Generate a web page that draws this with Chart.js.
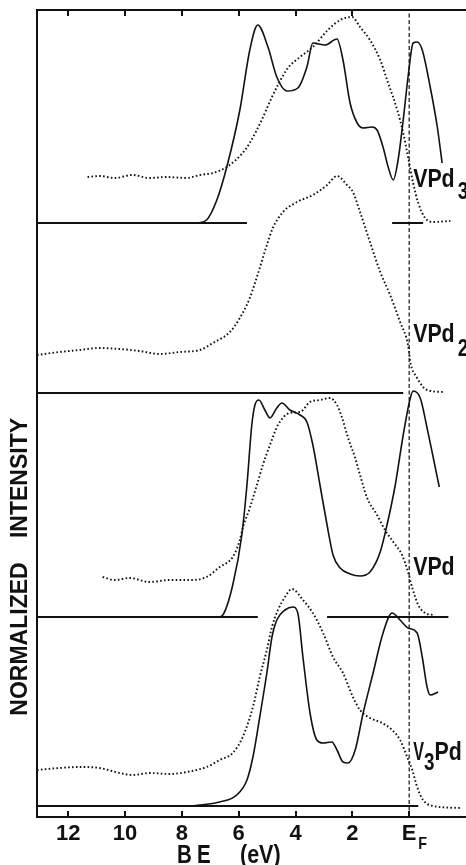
<!DOCTYPE html>
<html>
<head>
<meta charset="utf-8">
<title>Valence band spectra of V-Pd alloys</title>
<script src="https://cdn.jsdelivr.net/npm/chart.js@4.4.1/dist/chart.umd.min.js"></script>
<style>
  html, body { margin: 0; padding: 0; background: #fff; }
</style>
</head>
<body>
<canvas id="spectra" width="466" height="865"></canvas>
<script>
// binding energy ticks (eV below E_F)
const energyTicks = [12, 10, 8, 6, 4, 2, 0];

// VPd3: calculated DOS (solid) and measured spectrum (dots)
const vpd3CalcE = [7.44, 7.13, 6.77, 6.42, 5.96, 5.61, 5.33, 4.97, 4.66, 4.30, 3.92, 3.60, 3.39, 2.96, 2.54, 2.33, 2.08, 1.83, 1.62, 1.31, 1.13, 0.92, 0.74, 0.56, 0.39, 0.21, 0.04, -0.14, -0.28, -0.46, -0.74, -0.99, -1.16];
const vpd3CalcI = [0.0, 0.3, 2.3, 5.6, 11.3, 17.3, 19.8, 17.6, 14.6, 13.2, 13.5, 15.6, 18.0, 17.8, 18.4, 16.3, 12.0, 10.0, 9.5, 9.6, 9.3, 7.6, 5.6, 4.3, 6.3, 10.3, 14.6, 18.0, 18.1, 17.3, 13.6, 9.6, 6.0];
const vpd3ExpE = [11.32, 10.90, 10.37, 9.74, 9.14, 8.54, 7.83, 7.37, 6.91, 6.42, 5.86, 5.61, 5.19, 4.83, 4.62, 4.27, 3.84, 3.39, 2.86, 2.43, 2.01, 1.73, 1.38, 1.02, 0.74, 0.42, 0.21, 0.04, -0.14, -0.32, -0.56, -0.85, -1.45];
const vpd3ExpI = [4.6, 4.7, 4.5, 4.8, 4.5, 4.6, 4.5, 4.8, 5.0, 5.6, 7.0, 8.0, 10.3, 12.6, 13.8, 15.5, 16.6, 17.6, 19.3, 20.3, 20.6, 19.6, 18.3, 16.3, 14.0, 11.3, 9.0, 6.6, 4.0, 2.0, 0.5, 0.1, 0.2];
const vpd3Zero = [[13.1, 5.71], [0.60, -0.49]];

// VPd2: measured spectrum only
const vpd2ExpE = [13.10, 12.31, 11.60, 10.90, 10.19, 9.49, 8.78, 8.08, 7.37, 6.91, 6.31, 5.96, 5.61, 5.26, 5.01, 4.80, 4.44, 3.95, 3.39, 2.89, 2.54, 2.19, 1.98, 1.73, 1.38, 1.02, 0.67, 0.32, 0.04, -0.04, -0.28, -0.63, -1.20];
const vpd2ExpI = [3.8, 4.1, 4.3, 4.5, 4.4, 4.2, 3.9, 4.1, 4.3, 5.0, 6.1, 7.5, 9.5, 12.5, 14.8, 16.5, 18.1, 19.1, 19.8, 20.8, 21.7, 20.8, 20.1, 18.1, 15.1, 12.1, 9.8, 7.1, 4.8, 3.1, 1.5, 0.3, 0.1];
const vpd2Zero = [[13.1, 0.21]];

// VPd
const vpdCalcE = [6.70, 6.56, 6.21, 5.89, 5.71, 5.54, 5.43, 5.29, 5.08, 4.90, 4.66, 4.48, 4.20, 3.84, 3.60, 3.39, 3.14, 2.89, 2.68, 2.43, 2.08, 1.73, 1.38, 1.02, 0.78, 0.49, 0.21, -0.04, -0.14, -0.39, -0.63, -0.85, -1.06];
const vpdCalcI = [0.0, 0.2, 3.2, 8.2, 13.2, 19.2, 21.2, 21.7, 20.7, 19.9, 20.9, 21.4, 20.7, 20.2, 19.5, 17.2, 13.2, 9.2, 6.2, 4.9, 4.3, 4.1, 4.5, 6.5, 9.2, 13.2, 18.2, 21.9, 22.6, 21.9, 18.9, 15.9, 13.0];
const vpdExpE = [10.79, 10.37, 9.84, 9.14, 8.43, 7.72, 7.13, 6.67, 6.21, 5.96, 5.86, 5.61, 5.36, 5.15, 4.90, 4.62, 4.20, 3.84, 3.49, 3.14, 2.79, 2.54, 2.36, 2.15, 1.90, 1.73, 1.48, 1.13, 0.85, 0.56, 0.25, 0.04, -0.11, -0.32, -0.56, -0.85];
const vpdExpI = [4.0, 3.7, 3.9, 3.5, 3.7, 3.7, 4.0, 5.0, 6.0, 7.7, 8.9, 10.9, 13.2, 15.2, 17.2, 19.2, 20.4, 20.5, 21.5, 21.7, 21.9, 21.2, 19.9, 17.9, 15.9, 14.2, 11.9, 10.2, 8.7, 7.5, 6.2, 4.5, 2.9, 1.2, 0.4, 0.2];
const vpdZero = [[13.1, 5.33], [2.89, -1.38]];

// V3Pd
const v3pdCalcE = [7.60, 7.37, 6.67, 6.07, 5.71, 5.50, 5.26, 5.01, 4.83, 4.66, 4.37, 4.09, 3.92, 3.74, 3.49, 3.25, 3.03, 2.72, 2.54, 2.33, 2.15, 1.90, 1.62, 1.27, 0.92, 0.60, 0.32, 0.04, -0.28, -0.46, -0.63, -0.74, -1.02];
const v3pdCalcI = [0.0, 0.1, 0.4, 1.1, 2.6, 4.9, 8.9, 13.3, 16.9, 18.6, 19.6, 19.9, 19.3, 14.9, 9.3, 6.6, 6.3, 6.4, 5.6, 4.4, 4.3, 5.6, 9.3, 13.3, 17.3, 19.3, 18.6, 17.8, 17.3, 14.9, 11.9, 11.1, 11.4];
const v3pdExpE = [13.10, 12.31, 11.60, 10.90, 10.19, 9.74, 9.14, 8.43, 7.83, 7.13, 6.67, 6.21, 5.86, 5.50, 5.26, 5.01, 4.83, 4.62, 4.37, 4.13, 3.74, 3.39, 3.03, 2.68, 2.33, 1.98, 1.73, 1.38, 0.95, 0.60, 0.32, 0.07, -0.11, -0.28, -0.49, -0.85, -1.80];
const v3pdExpI = [3.6, 3.8, 3.9, 3.8, 3.3, 3.1, 3.3, 3.2, 3.4, 3.9, 4.6, 5.3, 6.9, 9.9, 12.9, 15.6, 17.9, 19.6, 20.9, 21.7, 20.6, 19.3, 17.3, 14.9, 13.3, 10.9, 9.6, 8.8, 8.3, 7.6, 6.6, 4.9, 3.6, 1.9, 0.6, 0.0, -0.2];
const v3pdZero = [[13.1, -0.32]];

const ink = '#111';
const sans = '"Liberation Sans", Arial, sans-serif';

// vertical stacking of the four spectra
const yMin = -1.1, yMax = 79.6;
const offsets = { VPd3: 58.3, VPd2: 41.3, VPd: 18.9, V3Pd: 0 };

function calcSet(E, I, off) {
  return {
    data: E.map((e, i) => ({ x: e, y: I[i] + off })),
    borderColor: ink, borderWidth: 1.6, pointRadius: 0,
    cubicInterpolationMode: 'monotone', fill: false
  };
}
function expSet(E, I, off) {
  return {
    data: E.map((e, i) => ({ x: e, y: I[i] + off })),
    borderColor: ink, borderWidth: 1.9, borderDash: [1.6, 2.3], pointRadius: 0,
    cubicInterpolationMode: 'monotone', fill: false
  };
}
function zeroSets(segments, off) {
  return segments.map(seg => ({
    data: seg.map(e => ({ x: e, y: off })),
    borderColor: ink, borderWidth: 2, pointRadius: 0, tension: 0, fill: false
  }));
}

const datasets = [
  ...zeroSets(vpd3Zero, offsets.VPd3),
  ...zeroSets(vpd2Zero, offsets.VPd2),
  ...zeroSets(vpdZero, offsets.VPd),
  ...zeroSets(v3pdZero, offsets.V3Pd),
  calcSet(vpd3CalcE, vpd3CalcI, offsets.VPd3),
  expSet(vpd3ExpE, vpd3ExpI, offsets.VPd3),
  expSet(vpd2ExpE, vpd2ExpI, offsets.VPd2),
  calcSet(vpdCalcE, vpdCalcI, offsets.VPd),
  expSet(vpdExpE, vpdExpI, offsets.VPd),
  calcSet(v3pdCalcE, v3pdCalcI, offsets.V3Pd),
  expSet(v3pdExpE, v3pdExpI, offsets.V3Pd),
  // Fermi level marker
  {
    data: [{ x: 0, y: yMin }, { x: 0, y: yMax }],
    borderColor: ink, borderWidth: 1.2, borderDash: [4, 2.5], pointRadius: 0, fill: false
  }
];

// sample names sit just right of E_F, lifted above each zero line.
// each part: [text, font size, drop below baseline, horizontal squeeze, gap after]
const sampleLabels = [
  { parts: [['VPd', 26, 0, 0.82, 3], ['3', 23, 12, 0.82, 0]], off: offsets.VPd3, lift: 3.6 },
  { parts: [['VPd', 26, 0, 0.82, 3], ['2', 23, 14, 0.82, 0]], off: offsets.VPd2, lift: 5.1 },
  { parts: [['VPd', 26, 0, 0.82, 0]], off: offsets.VPd, lift: 4.2 },
  { parts: [['V', 26, 0, 0.62, 0], ['3', 23, 10, 0.82, 0], ['Pd', 26, 0, 0.82, 0]], off: offsets.V3Pd, lift: 4.6 }
];

// condensed bold lettering: returns the advance width
function squeezed(c, text, x, y, size, sx) {
  c.font = 'bold ' + size + 'px ' + sans;
  c.save();
  c.translate(x, y);
  c.scale(sx, 1);
  c.fillText(text, 0, 0);
  c.restore();
  return c.measureText(text).width * sx;
}

const annotate = {
  id: 'annotate',
  beforeDraw(chart) {
    const c = chart.ctx;
    c.save();
    c.fillStyle = '#fff';
    c.fillRect(0, 0, chart.width, chart.height);
    c.restore();
  },
  afterDraw(chart) {
    const c = chart.ctx;
    const xs = chart.scales.x, ys = chart.scales.y;
    const ef = xs.getPixelForValue(0);
    c.save();
    c.fillStyle = ink;
    c.textBaseline = 'alphabetic';

    sampleLabels.forEach(lab => {
      let x = ef + 4;
      const y = ys.getPixelForValue(lab.off + lab.lift);
      lab.parts.forEach(([t, size, drop, sx, gap]) => {
        x += squeezed(c, t, x, y + drop, size, sx) + gap;
      });
    });

    // subscript F of the E_F tick label
    squeezed(c, 'F', ef + 9, 849, 17, 0.85);

    // axis title
    squeezed(c, 'B', 177, 863, 25, 0.82);
    squeezed(c, 'E', 197, 863, 25, 0.82);
    squeezed(c, '(eV)', 240, 863, 25, 0.86);

    // rotated intensity title
    c.translate(27, 0);
    c.rotate(-Math.PI / 2);
    c.font = 'bold 23px ' + sans;
    c.textAlign = 'center';
    c.fillText('INTENSITY', -478, 0);
    c.fillText('NORMALIZED', -639, 0);
    c.restore();
  }
};

new Chart(document.getElementById('spectra'), {
  type: 'line',
  data: { datasets },
  plugins: [annotate],
  options: {
    responsive: false,
    animation: false,
    layout: { padding: { left: 37, top: 10, right: 0, bottom: 0 } },
    plugins: { legend: { display: false }, tooltip: { enabled: false } },
    scales: {
      x: {
        type: 'linear', position: 'bottom', min: -2.0, max: 13.1, reverse: true,
        afterBuildTicks: s => { s.ticks = energyTicks.map(v => ({ value: v })); },
        afterFit: s => { s.height = 48; },
        grid: { display: true, drawOnChartArea: false, drawTicks: true, tickLength: -6, color: ink, lineWidth: 2 },
        border: { display: true, color: ink, width: 2 },
        ticks: {
          color: ink, padding: 10, maxRotation: 0, autoSkip: false,
          font: { family: sans, size: 22, weight: 'bold' },
          callback: v => (v === 0 ? 'E' : String(v))
        }
      },
      xTop: {
        type: 'linear', position: 'top', min: -2.0, max: 13.1, reverse: true, display: true,
        afterBuildTicks: s => { s.ticks = energyTicks.filter(v => v > 0).map(v => ({ value: v })); },
        afterFit: s => { s.height = 0; },
        grid: { display: true, drawOnChartArea: false, drawTicks: true, tickLength: -6, color: ink, lineWidth: 2 },
        border: { display: true, color: ink, width: 2 },
        ticks: { display: false }
      },
      y: {
        type: 'linear', min: yMin, max: yMax, display: true,
        afterFit: s => { s.width = 0; },
        grid: { display: false, drawTicks: false },
        border: { display: true, color: ink, width: 2 },
        ticks: { display: false }
      }
    }
  }
});
</script>
</body>
</html>
